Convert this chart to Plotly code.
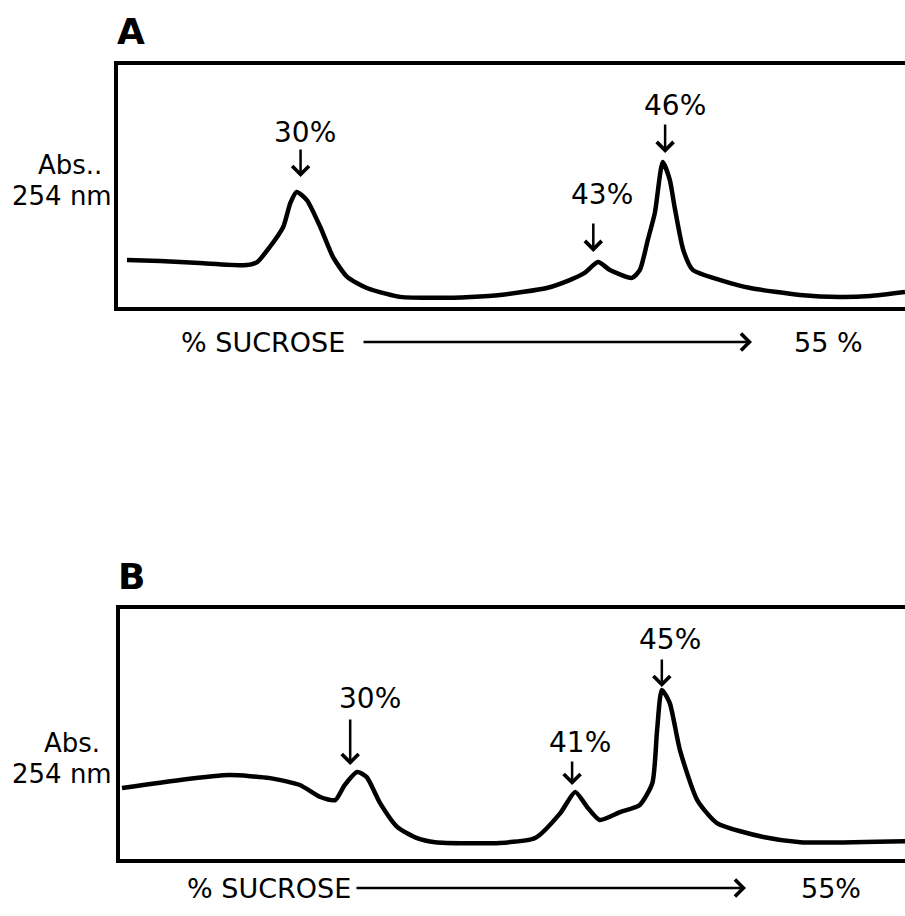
import plotly.graph_objects as go
from plotly.subplots import make_subplots

# ---- Data: gradient position (% of tube length) vs. absorbance at 254 nm (arbitrary units)
a_pos = [1.4, 5.6, 10.6, 16.6, 17.9, 19.5, 21.2, 22.1, 22.9, 24.2, 25.9, 27.5, 29.3, 31.8,
         34.3, 36.0, 41.1, 44.9, 48.7, 54.6, 57.5, 59.4, 61.1, 62.6, 65.4, 66.4, 67.4, 68.3,
         69.3, 70.2, 70.8, 71.9, 73.1, 76.6, 80.4, 86.7, 91.8, 95.6, 100.0]
a_abs = [0.198, 0.194, 0.186, 0.178, 0.190, 0.251, 0.332, 0.429, 0.474, 0.441, 0.332, 0.211,
         0.130, 0.085, 0.061, 0.049, 0.045, 0.049, 0.057, 0.085, 0.117, 0.146, 0.190, 0.158,
         0.126, 0.158, 0.279, 0.389, 0.595, 0.522, 0.413, 0.239, 0.158, 0.117, 0.085, 0.057,
         0.049, 0.053, 0.069]

b_pos = [0.5, 7.9, 14.2, 19.3, 23.1, 25.7, 27.6, 28.8, 30.4, 31.6, 33.3, 35.5, 38.0, 40.3,
         48.5, 53.0, 56.2, 58.1, 59.6, 61.2, 63.8, 66.3, 67.9, 68.5, 69.1, 70.1, 71.4, 73.6,
         76.1, 82.0, 86.7, 100.0]
b_abs = [0.290, 0.322, 0.341, 0.329, 0.302, 0.255, 0.243, 0.302, 0.353, 0.333, 0.231, 0.137,
         0.094, 0.078, 0.075, 0.094, 0.192, 0.275, 0.216, 0.165, 0.196, 0.224, 0.310, 0.518,
         0.675, 0.624, 0.439, 0.243, 0.153, 0.098, 0.078, 0.082]

# Peak labels: text, arrow x, arrow tip y, label x, label y
a_peaks = ["30%", "43%", "46%"]
a_peak_x = [23.4, 60.5, 69.6]
a_peak_tip = [0.534, 0.231, 0.632]
a_label_x = [24.0, 61.6, 70.8]
a_label_y = [0.713, 0.462, 0.826]
a_arrow_len = [29, 30, 30]

b_peaks = ["30%", "41%", "45%"]
b_peak_x = [29.5, 57.7, 69.1]
b_peak_tip = [0.380, 0.302, 0.686]
b_label_x = [32.0, 58.7, 70.1]
b_label_y = [0.643, 0.467, 0.871]
b_arrow_len = [47, 25, 29]

FONT = "DejaVu Sans"
W, H = 905, 916

fig = make_subplots(rows=2, cols=1)
fig.add_trace(go.Scatter(x=a_pos, y=a_abs, mode="lines", line=dict(color="black", width=4.5, shape="spline", smoothing=0.6),
                         showlegend=False, hoverinfo="skip"), row=1, col=1)
fig.add_trace(go.Scatter(x=b_pos, y=b_abs, mode="lines", line=dict(color="black", width=4.5, shape="spline", smoothing=0.6),
                         showlegend=False, hoverinfo="skip"), row=2, col=1)

ax_common = dict(showgrid=False, zeroline=False, showticklabels=False, ticks="",
                 showline=True, linecolor="black", linewidth=4, fixedrange=True)
fig.update_layout(
    xaxis=dict(domain=[117.5 / W, 1], range=[0.2, 100], mirror=True, **ax_common),
    yaxis=dict(domain=[1 - 307 / H, 1 - 64.5 / H], range=[0.008, 0.99], **ax_common),
    xaxis2=dict(domain=[120 / W, 1], range=[0.25, 100], mirror=True, **ax_common),
    yaxis2=dict(domain=[1 - 859 / H, 1 - 609 / H], range=[0.012, 0.992], **ax_common),
)

ann = []
def peak_annots(labels, px, tip, lx, ly, alen, xr, yr):
    for t, x, y, tx, ty, L in zip(labels, px, tip, lx, ly, alen):
        ann.append(dict(x=tx, y=ty, xref=xr, yref=yr, text=t, showarrow=False,
                        font=dict(family=FONT, size=28, color="black")))
        ann.append(dict(x=x, y=y, xref=xr, yref=yr, text="", showarrow=True, ax=0, ay=-L,
                        arrowhead=4, arrowsize=1.3, arrowwidth=2.5, arrowcolor="black", standoff=0))

peak_annots(a_peaks, a_peak_x, a_peak_tip, a_label_x, a_label_y, a_arrow_len, "x", "y")
peak_annots(b_peaks, b_peak_x, b_peak_tip, b_label_x, b_label_y, b_arrow_len, "x2", "y2")

def ptext(text, px, py, size, xanchor="center", bold=False):
    ann.append(dict(x=px / W, y=1 - py / H, xref="paper", yref="paper", text=("<b>%s</b>" % text) if bold else text,
                    showarrow=False, xanchor=xanchor, yanchor="middle",
                    font=dict(family=FONT, size=size, color="black")))

def harrow(x0, x1, py):
    ann.append(dict(x=x1 / W, y=1 - py / H, xref="paper", yref="paper", text="", showarrow=True,
                    axref="pixel", ayref="pixel", ax=-(x1 - x0), ay=0, arrowhead=4, arrowsize=1.3,
                    arrowwidth=2.5, arrowcolor="black", standoff=0))

# Panel A
ptext("A", 131, 32, 36, bold=True)
ptext("Abs..", 104, 165, 26, xanchor="right")
ptext("254 nm", 114, 196, 26, xanchor="right")
ptext("% SUCROSE", 263, 342, 27)
harrow(362, 752, 342)
ptext("55 %", 828, 342, 27)

# Panel B
ptext("B", 131, 576, 36, bold=True)
ptext("Abs.", 102, 743, 26, xanchor="right")
ptext("254 nm", 114, 774, 26, xanchor="right")
ptext("% SUCROSE", 269, 888, 27)
harrow(355, 746, 888)
ptext("55%", 831, 888, 27)

fig.update_layout(annotations=ann, width=W, height=H, margin=dict(l=0, r=0, t=0, b=0),
                  paper_bgcolor="white", plot_bgcolor="white")

fig.write_html("out.html", config={"displayModeBar": False},
               post_script="document.body.style.margin='0';document.body.style.overflow='hidden';")
